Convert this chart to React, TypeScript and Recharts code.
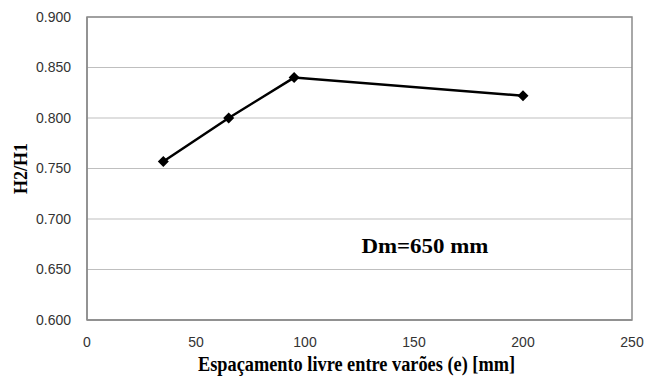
import React from 'react';
import { LineChart, Line, XAxis, YAxis, CartesianGrid, ReferenceArea, ReferenceDot } from 'recharts';

const spacing = [35, 65, 95, 200];
const ratio = [0.757, 0.8, 0.84, 0.822];
const xTicks = [0, 50, 100, 150, 200, 250];
const yTicks = [0.6, 0.65, 0.7, 0.75, 0.8, 0.85, 0.9];

const data = spacing.map((e, i) => ({ e, ratio: ratio[i] }));

const serif = '"Liberation Serif", "Times New Roman", serif';
const sans = '"Liberation Sans", Arial, sans-serif';

const Diamond = (props: any) => {
  const { cx, cy } = props;
  if (cx == null || cy == null) return null;
  const r = 5.5;
  return (
    <polygon
      points={`${cx},${cy - r} ${cx + r},${cy} ${cx},${cy + r} ${cx - r},${cy}`}
      fill="#000"
    />
  );
};

export default function App() {
  return (
    <div style={{ position: 'absolute', left: 0, top: 0, width: 646, height: 376, background: '#fff' }}>
      <LineChart width={646} height={376} data={data} margin={{ top: 17, right: 14, left: 0, bottom: 0 }}>
        <CartesianGrid vertical={false} stroke="#bfbfbf" strokeWidth={1} />
        <XAxis
          dataKey="e"
          type="number"
          domain={[0, 250]}
          ticks={xTicks}
          height={56}
          tickLine={false}
          tickMargin={11}
          axisLine={{ stroke: '#8c8c8c', strokeWidth: 1.5 }}
          tick={{ fill: '#333', fontSize: 14, fontFamily: sans }}
          label={{
            content: ({ viewBox }: any) => (
              <text
                x={viewBox.x + viewBox.width / 2 - 3}
                y={371}
                textAnchor="middle"
                fontFamily={serif}
                fontWeight="bold"
                fontSize={20}
                fill="#000"
                textLength={317}
                lengthAdjust="spacingAndGlyphs"
              >
                Espaçamento livre entre varões (e) [mm]
              </text>
            ),
          }}
        />
        <YAxis
          type="number"
          domain={[0.6, 0.9]}
          ticks={yTicks}
          width={87}
          tickLine={false}
          tickMargin={10}
          axisLine={{ stroke: '#8c8c8c', strokeWidth: 1.5 }}
          tick={{ fill: '#333', fontSize: 14, fontFamily: sans }}
          tickFormatter={(v: number) => v.toFixed(3)}
          label={{
            content: ({ viewBox }: any) => {
              const cy = viewBox.y + viewBox.height / 2;
              return (
                <text
                  x={21}
                  y={cy}
                  transform={`rotate(-90 21 ${cy})`}
                  textAnchor="middle"
                  dominantBaseline="central"
                  fontFamily={serif}
                  fontWeight="bold"
                  fontSize={18}
                  fill="#000"
                >
                  H2/H1
                </text>
              );
            },
          }}
        />
        <ReferenceArea x1={0} x2={250} y1={0.6} y2={0.9} fill="none" stroke="#8c8c8c" strokeWidth={1.5} />
        <ReferenceDot
          x={155}
          y={0.674}
          r={0}
          fill="none"
          stroke="none"
          label={{
            content: ({ viewBox }: any) => (
              <text
                x={viewBox.x + (viewBox.width || 0) / 2}
                y={viewBox.y + (viewBox.height || 0) / 2}
                textAnchor="middle"
                dominantBaseline="central"
                fontFamily={serif}
                fontWeight="bold"
                fontSize={22}
                fill="#000"
                textLength={127}
                lengthAdjust="spacingAndGlyphs"
              >
                Dm=650 mm
              </text>
            ),
          }}
        />
        <Line
          type="linear"
          dataKey="ratio"
          stroke="#000"
          strokeWidth={2.5}
          dot={<Diamond />}
          activeDot={false}
          isAnimationActive={false}
        />
      </LineChart>
    </div>
  );
}
